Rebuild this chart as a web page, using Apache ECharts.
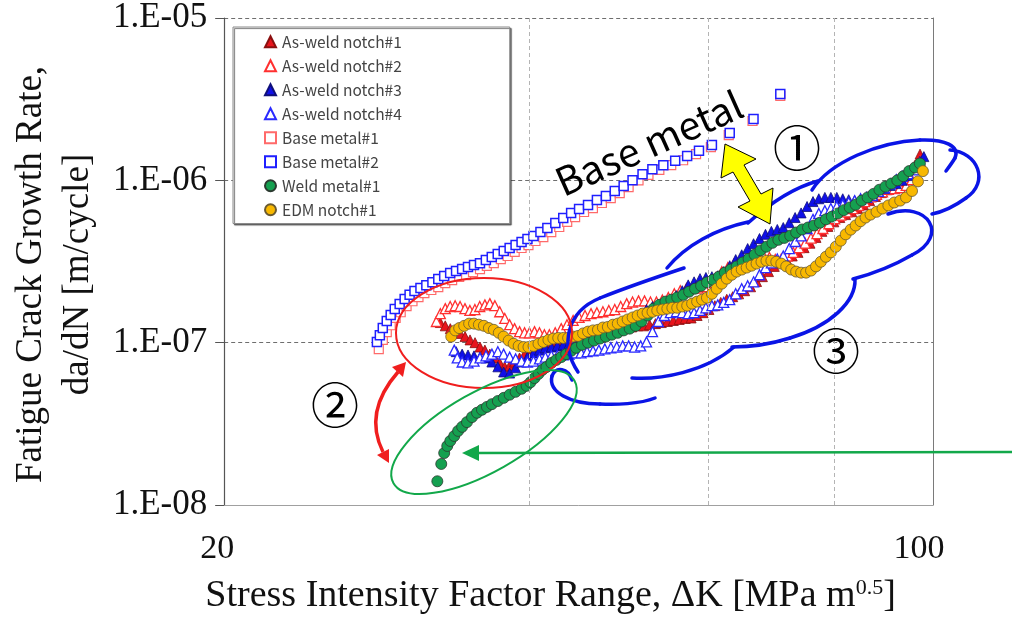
<!DOCTYPE html>
<html>
<head>
<meta charset="utf-8">
<script src="https://cdn.jsdelivr.net/npm/echarts@6/dist/echarts.min.js"></script>
<style>
  html, body { margin: 0; padding: 0; background: #ffffff; }
  #chart { width: 1012px; height: 621px; }
</style>
</head>
<body>
<div id="chart"></div>
<script>
// Fatigue crack growth rate da/dN [m/cycle] versus stress intensity factor range ΔK [MPa m^0.5]
const xTicks = [20, 100];
const xTickLabels = ['20', '100'];
const yTicks = [1e-8, 1e-7, 1e-6, 1e-5];
const yTickLabels = ['1.E-08', '1.E-07', '1.E-06', '1.E-05'];
const xGridValues = [40, 60, 80];

const seriesNames = ['As-weld notch#1', 'As-weld notch#2', 'As-weld notch#3', 'As-weld notch#4',
  'Base metal#1', 'Base metal#2', 'Weld metal#1', 'EDM notch#1'];

const asWeld1 = [[32.67,1.33e-7],[33.04,1.27e-7],[33.42,1.22e-7],[33.79,1.19e-7],[34.18,1.14e-7],[34.56,1.09e-7],[34.95,1.04e-7],[35.35,1.0e-7],[35.75,9.4e-8],[36.15,9.0e-8],[36.56,8.5e-8],[36.98,8.05e-8],[37.39,7.5e-8],[37.81,7.1e-8],[38.24,7.2e-8],[38.67,7.6e-8],[39.11,8.05e-8],[39.56,8.5e-8],[40.09,8.9e-8],[40.64,9.15e-8],[41.2,9.4e-8],[41.76,9.7e-8],[42.33,1.0e-7],[42.9,1.03e-7],[43.48,1.06e-7],[44.07,1.09e-7],[44.66,1.1e-7],[45.28,1.12e-7],[45.9,1.14e-7],[46.52,1.15e-7],[47.15,1.17e-7],[47.8,1.19e-7],[48.45,1.2e-7],[49.1,1.22e-7],[49.77,1.24e-7],[50.45,1.25e-7],[51.15,1.27e-7],[51.83,1.27e-7],[52.54,1.29e-7],[53.25,1.31e-7],[53.96,1.33e-7],[54.71,1.35e-7],[55.45,1.37e-7],[56.2,1.39e-7],[56.98,1.41e-7],[57.74,1.42e-7],[58.53,1.47e-7],[59.33,1.53e-7],[60.12,1.6e-7],[60.94,1.69e-7],[61.76,1.77e-7],[62.61,1.85e-7],[63.46,1.92e-7],[64.32,2.0e-7],[65.2,2.09e-7],[66.09,2.21e-7],[66.99,2.38e-7],[67.89,2.55e-7],[68.83,2.74e-7],[69.74,2.95e-7],[70.7,3.1e-7],[71.66,3.28e-7],[72.64,3.42e-7],[73.6,3.6e-7],[74.62,3.85e-7],[75.63,4.1e-7],[76.67,4.45e-7],[77.7,4.85e-7],[78.77,5.2e-7],[79.84,5.55e-7],[80.93,5.9e-7],[82.0,6.15e-7],[83.14,6.4e-7],[84.27,6.7e-7],[85.42,7.05e-7],[86.59,7.5e-7],[87.76,7.95e-7],[88.96,8.4e-7],[90.16,8.75e-7],[91.38,9.0e-7],[92.62,9.1e-7],[93.87,9.3e-7],[94.94,1.04e-6],[96.0,1.24e-6],[97.1,1.45e-6]];

const asWeld2 = [[32.38,1.35e-7],[32.67,1.51e-7],[33.04,1.62e-7],[33.41,1.67e-7],[33.79,1.69e-7],[34.17,1.67e-7],[34.55,1.62e-7],[34.94,1.58e-7],[35.34,1.6e-7],[35.73,1.67e-7],[36.15,1.71e-7],[36.56,1.74e-7],[36.98,1.69e-7],[37.39,1.55e-7],[37.82,1.41e-7],[38.24,1.29e-7],[38.67,1.22e-7],[39.11,1.17e-7],[39.56,1.15e-7],[40.0,1.15e-7],[40.46,1.17e-7],[40.92,1.15e-7],[41.38,1.12e-7],[41.85,1.12e-7],[42.41,1.15e-7],[42.99,1.22e-7],[43.56,1.29e-7],[44.17,1.37e-7],[44.77,1.43e-7],[45.38,1.47e-7],[46.0,1.51e-7],[46.62,1.53e-7],[47.26,1.55e-7],[47.9,1.58e-7],[48.55,1.6e-7],[49.21,1.67e-7],[49.88,1.74e-7],[50.55,1.78e-7],[51.24,1.81e-7],[51.94,1.81e-7],[52.65,1.78e-7],[53.37,1.78e-7],[54.09,1.83e-7],[54.83,1.9e-7],[55.58,2.0e-7],[56.34,2.09e-7],[57.12,2.15e-7],[57.87,2.17e-7],[58.66,2.17e-7],[59.46,2.21e-7],[60.26,2.35e-7],[61.08,2.5e-7],[61.9,2.74e-7],[62.75,2.9e-7],[63.6,3.03e-7],[64.47,3.07e-7],[65.35,3.03e-7],[66.24,3.15e-7],[67.14,3.35e-7],[68.05,3.42e-7],[68.98,3.35e-7],[69.9,3.25e-7],[70.86,3.28e-7],[71.82,3.42e-7],[72.8,3.6e-7],[73.75,3.85e-7],[74.8,4.1e-7],[75.8,4.4e-7],[76.84,4.7e-7],[77.88,5.05e-7],[78.95,5.4e-7],[80.0,5.8e-7],[81.1,6.1e-7],[82.2,6.4e-7],[83.33,6.7e-7],[84.45,7.0e-7],[85.6,7.4e-7],[86.8,7.9e-7],[87.96,8.2e-7],[89.16,8.5e-7],[90.36,8.8e-7],[91.6,8.9e-7],[92.8,9.0e-7],[94.1,9.3e-7],[95.3,1.01e-6],[96.4,1.17e-6],[97.1,1.31e-6]];

const asWeld3 = [[33.87,8.8e-8],[34.33,8.5e-8],[34.79,8.4e-8],[35.27,8.3e-8],[35.75,8.15e-8],[36.24,8.05e-8],[36.73,7.6e-8],[37.23,7.1e-8],[37.72,6.6e-8],[38.24,6.5e-8],[38.76,7.0e-8],[39.29,7.6e-8],[39.82,8.15e-8],[40.37,8.65e-8],[40.92,9.0e-8],[41.47,9.3e-8],[42.04,9.4e-8],[42.61,9.55e-8],[43.19,9.7e-8],[43.77,9.85e-8],[44.37,1.0e-7],[44.97,1.01e-7],[45.59,1.04e-7],[46.21,1.1e-7],[46.83,1.15e-7],[47.47,1.19e-7],[48.12,1.22e-7],[48.77,1.25e-7],[49.43,1.29e-7],[50.1,1.35e-7],[50.79,1.43e-7],[51.49,1.51e-7],[52.18,1.6e-7],[52.89,1.67e-7],[53.6,1.71e-7],[54.33,1.77e-7],[55.08,1.84e-7],[55.83,1.95e-7],[56.59,2.09e-7],[57.36,2.27e-7],[58.13,2.37e-7],[58.92,2.48e-7],[59.71,2.52e-7],[60.53,2.55e-7],[61.34,2.58e-7],[62.18,2.74e-7],[63.03,2.98e-7],[63.89,3.25e-7],[64.77,3.48e-7],[65.65,3.8e-7],[66.54,4.07e-7],[67.44,4.38e-7],[68.36,4.65e-7],[69.28,4.85e-7],[70.22,4.98e-7],[71.18,5.12e-7],[72.15,5.48e-7],[73.12,5.9e-7],[74.12,6.3e-7],[75.13,6.9e-7],[76.15,7.4e-7],[77.16,7.7e-7],[78.23,7.85e-7],[79.3,7.85e-7],[80.38,7.85e-7],[81.47,7.7e-7],[82.58,7.6e-7],[83.7,7.5e-7],[84.84,7.6e-7],[86.0,7.85e-7],[87.16,8.2e-7],[88.35,8.55e-7],[89.56,8.9e-7],[90.78,9.3e-7],[92.0,9.55e-7],[93.24,1.0e-6],[94.5,1.07e-6],[95.8,1.17e-6],[97.07,1.31e-6],[97.95,1.4e-6]];

const asWeld4 = [[33.72,9.0e-8],[33.95,8.05e-8],[34.33,7.6e-8],[34.79,7.5e-8],[35.27,7.7e-8],[35.75,8.05e-8],[36.24,8.3e-8],[36.73,8.5e-8],[37.23,8.8e-8],[37.72,8.5e-8],[38.24,8.15e-8],[38.76,7.95e-8],[39.29,7.7e-8],[39.82,7.6e-8],[40.37,7.7e-8],[40.92,7.95e-8],[41.47,8.15e-8],[42.04,8.3e-8],[42.61,8.3e-8],[43.19,8.4e-8],[43.77,8.5e-8],[44.37,8.65e-8],[44.97,8.65e-8],[45.59,8.8e-8],[46.21,8.9e-8],[46.83,9.0e-8],[47.47,9.15e-8],[48.12,9.3e-8],[48.77,9.4e-8],[49.43,9.55e-8],[50.1,9.55e-8],[50.79,9.4e-8],[51.49,9.55e-8],[52.18,1.01e-7],[52.89,1.17e-7],[53.6,1.35e-7],[54.33,1.47e-7],[55.08,1.53e-7],[55.83,1.55e-7],[56.59,1.53e-7],[57.36,1.51e-7],[58.13,1.53e-7],[58.92,1.58e-7],[59.71,1.64e-7],[60.53,1.69e-7],[61.34,1.71e-7],[62.18,1.77e-7],[63.03,1.84e-7],[63.89,2.0e-7],[64.77,2.15e-7],[65.65,2.24e-7],[66.54,2.37e-7],[67.44,2.62e-7],[68.36,2.9e-7],[69.28,3.1e-7],[70.22,3.28e-7],[71.18,3.42e-7],[72.15,3.8e-7],[73.12,4.2e-7],[74.12,4.55e-7],[75.13,5.05e-7],[76.15,5.75e-7],[77.16,6.25e-7],[78.23,6.5e-7],[79.3,6.7e-7],[80.38,6.9e-7],[81.47,7.08e-7],[82.58,7.3e-7],[83.7,7.5e-7],[84.84,7.7e-7],[86.0,7.85e-7],[87.16,8.05e-7],[88.35,8.55e-7],[89.56,9.0e-7],[90.78,9.5e-7],[92.0,1.01e-6],[93.24,1.06e-6],[94.5,1.1e-6],[95.8,1.16e-6],[97.07,1.27e-6]];

const base1 = [[28.41,9.13e-8],[28.67,1.04e-7],[28.93,1.16e-7],[29.19,1.28e-7],[29.52,1.42e-7],[29.86,1.54e-7],[30.26,1.68e-7],[30.67,1.8e-7],[31.09,1.91e-7],[31.51,2.02e-7],[32.01,2.11e-7],[32.52,2.2e-7],[33.04,2.33e-7],[33.56,2.43e-7],[34.1,2.54e-7],[34.64,2.61e-7],[35.19,2.72e-7],[35.75,2.84e-7],[36.31,2.97e-7],[36.89,3.09e-7],[37.48,3.27e-7],[38.07,3.42e-7],[38.68,3.62e-7],[39.29,3.83e-7],[39.91,3.99e-7],[40.55,4.23e-7],[41.28,4.47e-7],[42.03,4.8e-7],[42.8,5.16e-7],[43.58,5.54e-7],[44.37,5.94e-7],[45.28,6.38e-7],[46.2,6.75e-7],[47.15,7.25e-7],[48.11,7.78e-7],[49.1,8.35e-7],[50.1,9.09e-7],[51.24,1.0e-6],[52.41,1.08e-6],[53.72,1.16e-6],[55.19,1.24e-6],[56.7,1.33e-6],[58.39,1.45e-6],[60.39,1.6e-6],[62.89,1.9e-6],[66.38,2.32e-6],[70.7,3.31e-6]];

const base2 = [[28.29,1.01e-7],[28.48,1.11e-7],[28.67,1.23e-7],[28.93,1.36e-7],[29.19,1.48e-7],[29.46,1.61e-7],[29.79,1.73e-7],[30.13,1.86e-7],[30.47,1.97e-7],[30.81,2.08e-7],[31.23,2.17e-7],[31.65,2.26e-7],[32.09,2.36e-7],[32.52,2.47e-7],[32.96,2.57e-7],[33.41,2.69e-7],[33.86,2.76e-7],[34.33,2.84e-7],[34.79,2.92e-7],[35.27,3.01e-7],[35.75,3.09e-7],[36.23,3.23e-7],[36.72,3.37e-7],[37.22,3.52e-7],[37.73,3.67e-7],[38.24,3.83e-7],[38.76,3.99e-7],[39.29,4.17e-7],[39.82,4.35e-7],[40.37,4.54e-7],[41.01,4.8e-7],[41.66,5.08e-7],[42.42,5.46e-7],[43.19,5.86e-7],[43.97,6.29e-7],[44.77,6.66e-7],[45.69,7.05e-7],[46.62,7.56e-7],[47.58,8.0e-7],[48.55,8.59e-7],[49.54,9.23e-7],[50.55,1.0e-6],[51.71,1.09e-6],[52.88,1.17e-6],[54.21,1.24e-6],[55.69,1.32e-6],[57.22,1.41e-6],[58.78,1.52e-6],[60.53,1.65e-6],[63.03,1.96e-6],[66.53,2.39e-6],[70.7,3.4e-6]];

const weld1 = [[32.45,1.4e-8],[32.74,1.79e-8],[32.96,2.09e-8],[33.19,2.31e-8],[33.42,2.48e-8],[33.72,2.66e-8],[34.02,2.86e-8],[34.33,3.03e-8],[34.71,3.24e-8],[35.11,3.48e-8],[35.51,3.7e-8],[35.91,3.86e-8],[36.32,4.02e-8],[36.73,4.18e-8],[37.23,4.37e-8],[37.73,4.57e-8],[38.24,4.78e-8],[38.76,4.98e-8],[39.29,5.2e-8],[39.74,5.42e-8],[40.09,5.7e-8],[40.46,6.05e-8],[40.83,6.42e-8],[41.2,6.8e-8],[41.57,7.08e-8],[42.04,7.5e-8],[42.51,7.83e-8],[42.99,8.15e-8],[43.48,8.5e-8],[43.97,8.9e-8],[44.47,9.3e-8],[45.07,9.7e-8],[45.69,1.0e-7],[46.31,1.03e-7],[46.94,1.06e-7],[47.58,1.09e-7],[48.23,1.12e-7],[48.88,1.15e-7],[49.54,1.19e-7],[50.22,1.22e-7],[50.91,1.27e-7],[51.58,1.35e-7],[52.3,1.47e-7],[53.01,1.62e-7],[53.72,1.71e-7],[54.47,1.79e-7],[55.2,1.84e-7],[55.95,1.9e-7],[56.72,1.97e-7],[57.48,2.06e-7],[58.26,2.15e-7],[59.06,2.24e-7],[59.86,2.35e-7],[60.67,2.44e-7],[61.48,2.55e-7],[62.33,2.7e-7],[63.17,2.82e-7],[64.03,2.95e-7],[64.91,3.12e-7],[65.79,3.28e-7],[66.69,3.48e-7],[67.59,3.7e-7],[68.51,3.9e-7],[69.44,4.12e-7],[70.38,4.3e-7],[71.34,4.42e-7],[72.31,4.56e-7],[73.29,4.77e-7],[74.29,4.98e-7],[75.29,5.12e-7],[76.33,5.27e-7],[77.36,5.48e-7],[78.41,5.75e-7],[79.48,5.97e-7],[80.56,6.25e-7],[81.66,6.55e-7],[82.77,6.8e-7],[83.89,7.08e-7],[85.04,7.5e-7],[86.2,7.85e-7],[87.35,8.25e-7],[88.54,8.75e-7],[89.76,9.15e-7],[90.98,9.55e-7],[92.21,1.0e-6],[93.46,1.06e-6],[94.73,1.14e-6],[96.0,1.2e-6],[97.07,1.27e-6]];

const edm1 = [[33.49,1.09e-7],[33.8,1.19e-7],[34.1,1.23e-7],[34.49,1.27e-7],[34.88,1.31e-7],[35.27,1.31e-7],[35.66,1.29e-7],[36.07,1.27e-7],[36.48,1.23e-7],[36.89,1.2e-7],[37.31,1.15e-7],[37.72,1.09e-7],[38.16,1.03e-7],[38.59,9.85e-8],[39.03,9.55e-8],[39.47,9.4e-8],[39.91,9.4e-8],[40.37,9.55e-8],[40.83,9.85e-8],[41.29,1.01e-7],[41.76,1.04e-7],[42.23,1.06e-7],[42.7,1.07e-7],[43.19,1.07e-7],[43.67,1.07e-7],[44.17,1.09e-7],[44.66,1.1e-7],[45.18,1.14e-7],[45.69,1.17e-7],[46.21,1.19e-7],[46.73,1.2e-7],[47.26,1.24e-7],[47.79,1.25e-7],[48.34,1.29e-7],[48.88,1.31e-7],[49.43,1.35e-7],[49.99,1.39e-7],[50.56,1.43e-7],[51.14,1.47e-7],[51.73,1.51e-7],[52.3,1.53e-7],[52.89,1.55e-7],[53.47,1.58e-7],[54.09,1.6e-7],[54.71,1.62e-7],[55.33,1.64e-7],[55.95,1.64e-7],[56.59,1.67e-7],[57.23,1.69e-7],[57.87,1.74e-7],[58.53,1.79e-7],[59.19,1.84e-7],[59.85,1.89e-7],[60.53,2.0e-7],[61.19,2.15e-7],[61.9,2.31e-7],[62.61,2.48e-7],[63.32,2.62e-7],[64.03,2.74e-7],[64.77,2.82e-7],[65.5,2.9e-7],[66.24,2.98e-7],[66.99,3.07e-7],[67.74,3.15e-7],[68.51,3.2e-7],[69.28,3.2e-7],[70.06,3.15e-7],[70.86,3.07e-7],[71.66,2.95e-7],[72.48,2.82e-7],[73.29,2.74e-7],[74.12,2.7e-7],[74.96,2.7e-7],[75.81,2.78e-7],[76.67,2.95e-7],[77.52,3.15e-7],[78.41,3.38e-7],[79.3,3.6e-7],[80.2,3.9e-7],[81.11,4.25e-7],[82.02,4.65e-7],[82.96,4.97e-7],[83.89,5.27e-7],[84.84,5.6e-7],[85.8,5.9e-7],[86.78,6.15e-7],[87.96,6.4e-7],[89.16,6.7e-7],[90.36,7.0e-7],[91.58,7.3e-7],[92.83,7.5e-7],[94.06,7.85e-7],[95.35,8.6e-7],[96.65,9.85e-7],[97.74,1.14e-6]];

const chart = echarts.init(document.getElementById('chart'), null, { renderer: 'canvas' });

const serif = '"Liberation Serif", "Times New Roman", serif';
const sans = '"Noto Sans CJK JP", "Noto Sans", sans-serif';

function scatter(name, data, symbol, size, fill, stroke, strokeWidth) {
  return {
    name: name,
    type: 'scatter',
    data: data,
    symbol: symbol,
    symbolSize: size,
    silent: true,
    itemStyle: { color: fill, borderColor: stroke, borderWidth: strokeWidth, opacity: 1 }
  };
}

const series = [
  scatter(seriesNames[0], asWeld1, 'triangle', 10, '#e8141c', '#8a1010', 0.8),
  scatter(seriesNames[1], asWeld2, 'triangle', 10, '#ffffff', '#ff3030', 1.3),
  scatter(seriesNames[2], asWeld3, 'triangle', 10, '#1010e8', '#10107a', 0.8),
  scatter(seriesNames[3], asWeld4, 'triangle', 10, '#ffffff', '#2a2aff', 1.3),
  scatter(seriesNames[4], base1, 'rect', 9, '#ffffff', '#ff6a6a', 1.2),
  scatter(seriesNames[5], base2, 'rect', 9, '#ffffff', '#1f1fff', 1.5),
  scatter(seriesNames[6], weld1, 'circle', 11, '#15a050', '#2c3a30', 0.8),
  scatter(seriesNames[7], edm1, 'circle', 11, '#f8b800', '#6a5a30', 0.8)
];

// vertical dashed guides at ΔK = 40, 60, 80
series.push({
  name: 'grid-x',
  type: 'scatter',
  data: [],
  silent: true,
  z: 0,
  markLine: {
    silent: true,
    symbol: 'none',
    animation: false,
    label: { show: false },
    lineStyle: { color: '#b4b4b4', width: 1, type: [4, 3] },
    data: xGridValues.map(v => ({ xAxis: v }))
  }
});

// cloud outline around the upper cluster, built from cubic arcs
const blue = '#0a14e6';
const cloudArcs = [
  [578, 372, 560, 345, 566, 312, 600, 298],
  [600, 298, 630, 286, 660, 276, 684, 268],
  [667, 268, 686, 245, 716, 229, 748, 222],
  [748, 223, 768, 205, 792, 188, 818, 181],
  [812, 190, 830, 162, 878, 142, 920, 140],
  [920, 140, 945, 139, 960, 146, 955, 158],
  [955, 158, 952, 163, 949, 167, 946, 171],
  [950, 150, 978, 152, 990, 182, 966, 198],
  [966, 198, 955, 206, 942, 212, 932, 214],
  [888, 214, 928, 200, 950, 236, 912, 255],
  [912, 255, 893, 266, 872, 274, 853, 279],
  [855, 279, 856, 302, 830, 326, 790, 338],
  [790, 338, 768, 345, 750, 347, 732, 347],
  [734, 347, 705, 372, 660, 380, 632, 378],
  [655, 398, 640, 404, 615, 405, 600, 404],
  [600, 404, 570, 404, 548, 392, 552, 376],
  [552, 376, 556, 366, 568, 368, 572, 380]
];

const graphics = cloudArcs.map(a => ({
  type: 'bezierCurve',
  shape: { x1: a[0], y1: a[1], cpx1: a[2], cpy1: a[3], cpx2: a[4], cpy2: a[5], x2: a[6], y2: a[7] },
  style: { fill: 'none', stroke: blue, lineWidth: 3.5, lineCap: 'round' },
  z: 100
}));

graphics.push(
  { type: 'ellipse', shape: { cx: 484, cy: 333, rx: 88, ry: 55 },
    style: { fill: 'none', stroke: '#f01e1e', lineWidth: 2 }, z: 100 },
  { type: 'ellipse', x: 484, y: 432, rotation: 0.515, shape: { cx: 0, cy: 0, rx: 104, ry: 40 },
    style: { fill: 'none', stroke: '#12a84a', lineWidth: 2 }, z: 100 },
  // red curved double arrow
  { type: 'bezierCurve', shape: { x1: 398, y1: 372, cpx1: 363, cpy1: 412, x2: 383, y2: 452 },
    style: { fill: 'none', stroke: '#f01e1e', lineWidth: 3.5 }, z: 100 },
  { type: 'polygon', shape: { points: [[406, 362], [403, 377], [392, 367]] },
    style: { fill: '#f01e1e' }, z: 100 },
  { type: 'polygon', shape: { points: [[389, 463], [389, 449], [377, 455]] },
    style: { fill: '#f01e1e' }, z: 100 },
  // yellow double arrow
  { type: 'polygon', shape: { points: [[725, 144], [756, 159], [744, 165], [761, 194], [773, 188], [770, 224], [738, 207], [750, 201], [733, 172], [721, 178]] },
    style: { fill: '#ffff00', stroke: '#000000', lineWidth: 1 }, z: 100 },
  // green pointer arrow
  { type: 'line', shape: { x1: 1012, y1: 452, x2: 474, y2: 453 },
    style: { stroke: '#12a84a', lineWidth: 2.5 }, z: 100 },
  { type: 'polygon', shape: { points: [[462, 453], [479, 445], [479, 461]] },
    style: { fill: '#12a84a' }, z: 100 },
  // labels
  { type: 'text', x: 649, y: 143, rotation: 0.42, z: 100,
    style: { text: 'Base metal', font: '39px ' + sans, fill: '#000', align: 'center', verticalAlign: 'middle' } },
  { type: 'text', x: 797, y: 148, z: 100,
    style: { text: '①', font: '48px ' + sans, fill: '#000', align: 'center', verticalAlign: 'middle' } },
  { type: 'text', x: 335, y: 405, z: 100,
    style: { text: '②', font: '48px ' + sans, fill: '#000', align: 'center', verticalAlign: 'middle' } },
  { type: 'text', x: 836, y: 351, z: 100,
    style: { text: '③', font: '48px ' + sans, fill: '#000', align: 'center', verticalAlign: 'middle' } }
);

const option = {
  animation: false,
  backgroundColor: '#ffffff',
  grid: { left: 218, right: 79, top: 18, bottom: 116, containLabel: false },
  legend: {
    data: seriesNames,
    orient: 'vertical',
    left: 233,
    top: 27,
    padding: [7, 108, 6, 31],
    itemGap: 8.5,
    itemWidth: 11,
    itemHeight: 11,
    backgroundColor: '#ffffff',
    borderColor: '#8a8a8a',
    borderWidth: 1,
    shadowColor: 'rgba(0,0,0,0.55)',
    shadowBlur: 1,
    shadowOffsetX: 1.5,
    shadowOffsetY: 1.5,
    selectedMode: false,
    textStyle: { fontFamily: sans, fontSize: 15.5, color: '#444444', padding: [0, 0, 0, 1] },
    z: 50
  },
  xAxis: {
    type: 'log',
    logBase: 10,
    min: 20,
    max: 100,
    name: '{t|Stress Intensity Factor Range, ΔK [MPa m}{s|0.5}{t|]}',
    nameLocation: 'middle',
    nameGap: 72,
    nameTextStyle: {
      padding: [0, 56, 0, 0],
      rich: {
        t: { fontFamily: serif, fontSize: 38, color: '#111' },
        s: { fontFamily: serif, fontSize: 22, color: '#111', verticalAlign: 'top', padding: [0, 0, 15, 0] }
      }
    },
    axisLine: { show: true, lineStyle: { color: '#a0a0a0', width: 1 } },
    axisTick: { show: false },
    splitLine: { show: false },
    axisLabel: {
      customValues: xTicks,
      margin: 27,
      fontFamily: serif,
      fontSize: 34,
      color: '#111',
      formatter: v => {
        const i = xTicks.indexOf(Math.round(v));
        if (i < 0) return '';
        return (i === 0 ? '{first|' : '{last|') + xTickLabels[i] + '}';
      },
      rich: {
        first: { fontFamily: serif, fontSize: 34, color: '#111', padding: [0, 14, 0, 0] },
        last: { fontFamily: serif, fontSize: 34, color: '#111', padding: [0, 28, 0, 0] }
      }
    }
  },
  yAxis: [{
    type: 'log',
    logBase: 10,
    min: 1e-8,
    max: 1e-5,
    name: 'Fatigue Crack Growth Rate,\nda/dN [m/cycle]',
    nameLocation: 'middle',
    nameRotate: 90,
    nameGap: 98,
    nameTextStyle: { fontFamily: serif, fontSize: 37, lineHeight: 47, color: '#111', padding: [0, 26, 0, 0] },
    axisLine: { show: true, lineStyle: { color: '#555', width: 1.2 } },
    axisTick: { show: true, inside: false, length: 9, lineStyle: { color: '#555', width: 1 } },
    splitLine: { show: true, lineStyle: { color: '#6e6e6e', width: 1, type: [4, 3] } },
    axisLabel: {
      margin: 17,
      fontFamily: serif,
      fontSize: 35,
      color: '#111',
      formatter: v => {
        const k = yTicks.findIndex(t => Math.abs(Math.log10(t) - Math.log10(v)) < 1e-6);
        return k >= 0 ? yTickLabels[k] : '';
      }
    }
  }, {
    type: 'log',
    logBase: 10,
    min: 1e-8,
    max: 1e-5,
    position: 'right',
    axisLine: { show: true, lineStyle: { color: '#7a7a7a', width: 1 } },
    axisTick: { show: false },
    axisLabel: { show: false },
    splitLine: { show: false }
  }],
  series: series,
  graphic: graphics
};

chart.setOption(option);
</script>
</body>
</html>
